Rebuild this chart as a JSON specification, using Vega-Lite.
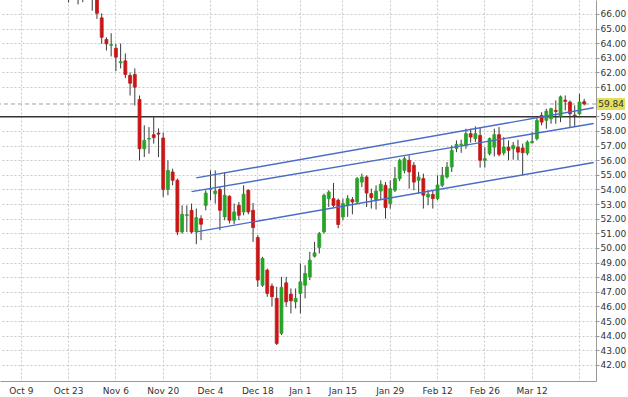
{
  "$schema": "https://vega.github.io/schema/vega-lite/v6.json",
  "width": 596,
  "height": 381,
  "autosize": {"type": "none"},
  "padding": {"left": 0, "top": 0, "right": 32, "bottom": 16},
  "background": "white",
  "config": {
    "view": {"stroke": null},
    "font": "DejaVu Sans",
    "axisY": {
      "orient": "right",
      "title": null,
      "labelOverlap": false,
      "format": ".2f",
      "grid": true,
      "gridColor": "#c8c8c8",
      "gridDash": [2, 2],
      "tickSize": 3,
      "tickColor": "#999999",
      "domainColor": "#999999",
      "labelFont": "DejaVu Sans",
      "labelFontSize": 9,
      "labelColor": "#333333",
      "labelPadding": 1
    }
  },
  "datasets": {
    "candles": [
      {"date": "2018-10-23", "o": 67.6, "h": 68.1, "l": 66.78, "c": 67.3},
      {"date": "2018-10-25", "o": 67.2, "h": 67.8, "l": 66.65, "c": 67.4},
      {"date": "2018-10-26", "o": 67.4, "h": 67.9, "l": 66.8, "c": 67.1},
      {"date": "2018-10-30", "o": 67.3, "h": 67.7, "l": 66.22, "c": 67.05},
      {"date": "2018-10-31", "o": 67.2, "h": 67.5, "l": 65.66, "c": 66.04},
      {"date": "2018-11-01", "o": 65.73, "h": 66.04, "l": 63.95, "c": 64.4},
      {"date": "2018-11-02", "o": 64.25, "h": 64.4, "l": 63.5, "c": 63.95},
      {"date": "2018-11-05", "o": 63.85, "h": 64.68, "l": 63.09, "c": 63.9},
      {"date": "2018-11-06", "o": 63.65, "h": 63.95, "l": 62.08, "c": 63.04},
      {"date": "2018-11-07", "o": 62.66, "h": 63.97, "l": 62.27, "c": 62.74},
      {"date": "2018-11-08", "o": 62.79, "h": 63.29, "l": 61.6, "c": 61.86},
      {"date": "2018-11-09", "o": 61.79, "h": 61.99, "l": 60.42, "c": 61.26},
      {"date": "2018-11-12", "o": 61.86, "h": 62.27, "l": 59.74, "c": 60.99},
      {"date": "2018-11-13", "o": 60.15, "h": 60.42, "l": 55.99, "c": 56.78},
      {"date": "2018-11-14", "o": 56.78, "h": 58.38, "l": 56.21, "c": 57.35},
      {"date": "2018-11-15", "o": 57.44, "h": 58.26, "l": 56.44, "c": 57.48},
      {"date": "2018-11-16", "o": 57.74, "h": 58.94, "l": 57.13, "c": 57.54},
      {"date": "2018-11-19", "o": 57.85, "h": 58.17, "l": 56.21, "c": 57.78},
      {"date": "2018-11-20", "o": 57.51, "h": 57.88, "l": 53.48, "c": 53.99},
      {"date": "2018-11-21", "o": 53.99, "h": 55.99, "l": 53.6, "c": 55.3},
      {"date": "2018-11-22", "o": 55.19, "h": 55.42, "l": 54.28, "c": 54.62},
      {"date": "2018-11-23", "o": 54.62, "h": 54.74, "l": 50.87, "c": 51.09},
      {"date": "2018-11-26", "o": 51.09, "h": 52.91, "l": 50.98, "c": 52.3},
      {"date": "2018-11-27", "o": 52.22, "h": 52.91, "l": 51.09, "c": 52.27},
      {"date": "2018-11-28", "o": 52.57, "h": 53.03, "l": 50.98, "c": 51.09},
      {"date": "2018-11-29", "o": 51.09, "h": 52.69, "l": 50.25, "c": 52.07},
      {"date": "2018-11-30", "o": 52.0, "h": 52.23, "l": 50.53, "c": 51.62},
      {"date": "2018-12-03", "o": 52.91, "h": 53.94, "l": 52.57, "c": 53.75},
      {"date": "2018-12-04", "o": 54.0, "h": 55.3, "l": 53.26, "c": 54.05},
      {"date": "2018-12-05", "o": 53.71, "h": 55.3, "l": 53.03, "c": 53.89},
      {"date": "2018-12-06", "o": 53.99, "h": 54.16, "l": 51.21, "c": 52.57},
      {"date": "2018-12-07", "o": 52.12, "h": 55.19, "l": 51.89, "c": 53.6},
      {"date": "2018-12-10", "o": 53.53, "h": 53.6, "l": 51.67, "c": 51.89},
      {"date": "2018-12-11", "o": 51.89, "h": 53.03, "l": 51.62, "c": 52.46},
      {"date": "2018-12-12", "o": 52.91, "h": 53.14, "l": 51.89, "c": 52.23},
      {"date": "2018-12-13", "o": 52.46, "h": 54.28, "l": 52.23, "c": 53.67},
      {"date": "2018-12-14", "o": 53.94, "h": 54.0, "l": 52.3, "c": 52.46},
      {"date": "2018-12-17", "o": 52.57, "h": 53.07, "l": 50.41, "c": 51.39},
      {"date": "2018-12-18", "o": 50.71, "h": 50.87, "l": 47.34, "c": 47.8},
      {"date": "2018-12-19", "o": 47.45, "h": 49.39, "l": 47.34, "c": 49.28},
      {"date": "2018-12-20", "o": 48.48, "h": 48.59, "l": 46.66, "c": 46.89},
      {"date": "2018-12-21", "o": 47.39, "h": 47.57, "l": 46.0, "c": 46.66},
      {"date": "2018-12-24", "o": 46.55, "h": 47.34, "l": 43.36, "c": 43.47},
      {"date": "2018-12-26", "o": 44.16, "h": 48.02, "l": 44.04, "c": 47.3},
      {"date": "2018-12-27", "o": 47.61, "h": 48.02, "l": 45.97, "c": 46.31},
      {"date": "2018-12-28", "o": 46.84, "h": 47.23, "l": 45.52, "c": 46.38},
      {"date": "2018-12-31", "o": 46.31, "h": 47.23, "l": 45.86, "c": 46.55},
      {"date": "2019-01-02", "o": 46.89, "h": 48.94, "l": 45.52, "c": 47.68},
      {"date": "2019-01-03", "o": 47.45, "h": 48.82, "l": 46.55, "c": 48.25},
      {"date": "2019-01-04", "o": 48.02, "h": 49.73, "l": 47.8, "c": 49.16},
      {"date": "2019-01-07", "o": 49.43, "h": 50.41, "l": 49.34, "c": 49.66},
      {"date": "2019-01-08", "o": 50.03, "h": 51.09, "l": 49.62, "c": 50.98},
      {"date": "2019-01-09", "o": 51.09, "h": 53.71, "l": 50.98, "c": 53.6},
      {"date": "2019-01-10", "o": 53.37, "h": 53.94, "l": 52.8, "c": 53.82},
      {"date": "2019-01-11", "o": 53.37, "h": 54.44, "l": 52.8, "c": 52.91},
      {"date": "2019-01-14", "o": 53.26, "h": 53.37, "l": 51.34, "c": 51.6},
      {"date": "2019-01-15", "o": 52.12, "h": 53.37, "l": 51.89, "c": 53.03},
      {"date": "2019-01-16", "o": 52.91, "h": 53.6, "l": 52.12, "c": 53.37},
      {"date": "2019-01-17", "o": 53.3, "h": 53.48, "l": 52.3, "c": 53.14},
      {"date": "2019-01-18", "o": 53.14, "h": 54.85, "l": 52.98, "c": 54.74},
      {"date": "2019-01-21", "o": 54.5, "h": 55.08, "l": 54.16, "c": 54.85},
      {"date": "2019-01-22", "o": 54.85, "h": 54.96, "l": 52.8, "c": 53.75},
      {"date": "2019-01-23", "o": 53.71, "h": 54.05, "l": 52.69, "c": 53.44},
      {"date": "2019-01-24", "o": 53.26, "h": 54.28, "l": 52.62, "c": 53.89},
      {"date": "2019-01-25", "o": 53.89, "h": 54.62, "l": 53.26, "c": 54.35},
      {"date": "2019-01-28", "o": 54.28, "h": 54.5, "l": 52.0, "c": 52.76},
      {"date": "2019-01-29", "o": 53.03, "h": 54.62, "l": 52.69, "c": 54.05},
      {"date": "2019-01-30", "o": 53.94, "h": 55.53, "l": 53.82, "c": 54.74},
      {"date": "2019-01-31", "o": 54.74, "h": 56.1, "l": 54.57, "c": 55.99},
      {"date": "2019-02-01", "o": 55.3, "h": 56.25, "l": 55.1, "c": 56.1},
      {"date": "2019-02-04", "o": 55.99, "h": 56.33, "l": 54.05, "c": 55.19},
      {"date": "2019-02-05", "o": 55.65, "h": 55.87, "l": 53.94, "c": 54.5},
      {"date": "2019-02-06", "o": 54.62, "h": 55.19, "l": 53.71, "c": 54.85},
      {"date": "2019-02-07", "o": 54.74, "h": 55.08, "l": 52.69, "c": 53.6},
      {"date": "2019-02-08", "o": 53.48, "h": 53.94, "l": 52.91, "c": 53.67},
      {"date": "2019-02-11", "o": 53.65, "h": 53.94, "l": 52.69, "c": 53.37},
      {"date": "2019-02-12", "o": 53.37, "h": 54.96, "l": 53.26, "c": 54.3},
      {"date": "2019-02-13", "o": 54.28, "h": 55.53, "l": 54.16, "c": 54.96},
      {"date": "2019-02-14", "o": 54.85, "h": 55.87, "l": 54.74, "c": 55.53},
      {"date": "2019-02-15", "o": 55.53, "h": 57.01, "l": 55.19, "c": 56.67},
      {"date": "2019-02-18", "o": 56.8, "h": 57.35, "l": 56.55, "c": 57.08},
      {"date": "2019-02-19", "o": 57.05, "h": 57.4, "l": 56.5, "c": 57.1},
      {"date": "2019-02-20", "o": 57.01, "h": 58.15, "l": 56.78, "c": 57.81},
      {"date": "2019-02-21", "o": 57.81, "h": 58.15, "l": 57.2, "c": 57.58},
      {"date": "2019-02-22", "o": 57.47, "h": 58.31, "l": 57.24, "c": 57.81},
      {"date": "2019-02-25", "o": 57.69, "h": 58.26, "l": 55.49, "c": 55.99},
      {"date": "2019-02-26", "o": 55.99, "h": 56.89, "l": 55.49, "c": 56.1},
      {"date": "2019-02-27", "o": 56.44, "h": 57.55, "l": 56.33, "c": 57.47},
      {"date": "2019-02-28", "o": 56.89, "h": 58.15, "l": 56.26, "c": 57.74},
      {"date": "2019-03-01", "o": 57.74, "h": 58.26, "l": 56.26, "c": 56.4},
      {"date": "2019-03-04", "o": 56.5, "h": 57.58, "l": 56.33, "c": 56.9},
      {"date": "2019-03-05", "o": 56.89, "h": 57.35, "l": 55.99, "c": 56.67},
      {"date": "2019-03-06", "o": 56.78, "h": 57.24, "l": 56.03, "c": 57.01},
      {"date": "2019-03-07", "o": 56.89, "h": 57.4, "l": 55.99, "c": 56.55},
      {"date": "2019-03-08", "o": 56.83, "h": 57.13, "l": 54.96, "c": 56.51},
      {"date": "2019-03-11", "o": 56.48, "h": 57.35, "l": 56.33, "c": 57.24},
      {"date": "2019-03-12", "o": 57.19, "h": 57.92, "l": 57.13, "c": 57.28},
      {"date": "2019-03-13", "o": 57.47, "h": 58.94, "l": 57.35, "c": 58.72},
      {"date": "2019-03-14", "o": 59.06, "h": 59.28, "l": 58.38, "c": 58.6},
      {"date": "2019-03-15", "o": 58.72, "h": 59.52, "l": 58.15, "c": 59.35},
      {"date": "2019-03-18", "o": 58.83, "h": 59.58, "l": 58.49, "c": 59.52},
      {"date": "2019-03-19", "o": 59.4, "h": 60.08, "l": 58.49, "c": 59.33},
      {"date": "2019-03-20", "o": 59.0, "h": 60.42, "l": 58.6, "c": 60.33},
      {"date": "2019-03-21", "o": 60.1, "h": 60.42, "l": 59.4, "c": 60.02},
      {"date": "2019-03-22", "o": 59.97, "h": 60.08, "l": 58.26, "c": 59.17},
      {"date": "2019-03-25", "o": 59.08, "h": 59.74, "l": 58.26, "c": 59.03},
      {"date": "2019-03-26", "o": 59.17, "h": 60.54, "l": 59.06, "c": 59.97},
      {"date": "2019-03-27", "o": 60.0, "h": 60.2, "l": 59.74, "c": 59.84}
    ],
    "channel": [
      {"line": "top", "date": "2018-11-29", "v": 54.79},
      {"line": "top", "date": "2019-03-29", "v": 59.58},
      {"line": "middle", "date": "2018-11-28", "v": 53.85},
      {"line": "middle", "date": "2019-03-29", "v": 58.51},
      {"line": "lower", "date": "2018-11-29", "v": 51.1},
      {"line": "lower", "date": "2019-03-29", "v": 55.84}
    ],
    "last": [{"date": "2019-03-29", "price": 59.84}],
    "levels": [{"level": 58.97}]
  },
  "layer": [
    {
      "data": {"name": "levels"},
      "mark": {"type": "rule", "color": "#333333", "strokeWidth": 1.5},
      "encoding": {
        "y": {
          "field": "level",
          "type": "quantitative",
          "scale": {"domain": [40.9, 66.95], "nice": false, "zero": false},
          "axis": {"values": [42,43,44,45,46,47,48,49,50,51,52,53,54,55,56,57,58,59,61,62,63,64,65,66,67], "labelOverlap": false}
        }
      }
    },
    {
      "data": {"name": "last"},
      "mark": {"type": "rule", "color": "#a0a0a0", "strokeWidth": 1, "strokeDash": [4, 3]},
      "encoding": {
        "y": {"field": "price", "type": "quantitative", "axis": {"values": [42,43,44,45,46,47,48,49,50,51,52,53,54,55,56,57,58,59,61,62,63,64,65,66,67], "labelOverlap": false}}
      }
    },
    {
      "encoding": {
        "x": {
          "field": "date",
          "type": "ordinal",
          "scale": {
            "type": "band",
            "paddingInner": 0,
            "paddingOuter": 0,
            "domain": ["2018-10-03","2018-10-04","2018-10-05","2018-10-08","2018-10-09","2018-10-10","2018-10-11","2018-10-12","2018-10-15","2018-10-16","2018-10-17","2018-10-18","2018-10-19","2018-10-22","2018-10-23","2018-10-24","2018-10-25","2018-10-26","2018-10-29","2018-10-30","2018-10-31",
              "2018-11-01","2018-11-02","2018-11-05","2018-11-06","2018-11-07","2018-11-08","2018-11-09","2018-11-12","2018-11-13","2018-11-14","2018-11-15","2018-11-16","2018-11-19","2018-11-20","2018-11-21","2018-11-22","2018-11-23","2018-11-26","2018-11-27","2018-11-28","2018-11-29","2018-11-30",
              "2018-12-03","2018-12-04","2018-12-05","2018-12-06","2018-12-07","2018-12-10","2018-12-11","2018-12-12","2018-12-13","2018-12-14","2018-12-17","2018-12-18","2018-12-19","2018-12-20","2018-12-21","2018-12-24","2018-12-26","2018-12-27","2018-12-28","2018-12-31",
              "2019-01-02","2019-01-03","2019-01-04","2019-01-07","2019-01-08","2019-01-09","2019-01-10","2019-01-11","2019-01-14","2019-01-15","2019-01-16","2019-01-17","2019-01-18","2019-01-21","2019-01-22","2019-01-23","2019-01-24","2019-01-25","2019-01-28","2019-01-29","2019-01-30","2019-01-31",
              "2019-02-01","2019-02-04","2019-02-05","2019-02-06","2019-02-07","2019-02-08","2019-02-11","2019-02-12","2019-02-13","2019-02-14","2019-02-15","2019-02-18","2019-02-19","2019-02-20","2019-02-21","2019-02-22","2019-02-25","2019-02-26","2019-02-27","2019-02-28",
              "2019-03-01","2019-03-04","2019-03-05","2019-03-06","2019-03-07","2019-03-08","2019-03-11","2019-03-12","2019-03-13","2019-03-14","2019-03-15","2019-03-18","2019-03-19","2019-03-20","2019-03-21","2019-03-22","2019-03-25","2019-03-26","2019-03-27","2019-03-28","2019-03-29"]
          },
          "axis": {
            "title": null,
            "values": ["2018-10-09","2018-10-23","2018-11-06","2018-11-20","2018-12-04","2018-12-18","2019-01-02","2019-01-15","2019-01-29","2019-02-12","2019-02-26","2019-03-12","2019-03-26"],
            "labelExpr": "datum.value == '2019-01-02' ? 'Jan 1' : (datum.value == '2019-03-26' ? '' : utcFormat(toDate(datum.value), '%b %-d'))",
            "bandPosition": 0.5,
            "grid": true,
            "gridColor": "#c8c8c8",
            "gridDash": [2, 2],
            "gridWidth": 1,
            "ticks": false,
            "domainColor": "#999999",
            "labelAngle": 0,
            "labelFont": "DejaVu Sans",
            "labelFontSize": 9,
            "labelColor": "#333333",
            "labelPadding": 5,
            "labelOverlap": false
          }
        }
      },
      "layer": [
        {
          "data": {"name": "candles"},
          "mark": {"type": "rule", "color": "#3a3a3a", "strokeWidth": 1, "clip": true},
          "encoding": {
            "y": {"field": "l", "type": "quantitative", "axis": {"values": [42,43,44,45,46,47,48,49,50,51,52,53,54,55,56,57,58,59,61,62,63,64,65,66,67], "labelOverlap": false}},
            "y2": {"field": "h"}
          }
        },
        {
          "data": {"name": "candles"},
          "mark": {"type": "bar", "width": {"band": 0.62}, "strokeWidth": 0.8, "clip": true},
          "encoding": {
            "y": {"field": "o", "type": "quantitative", "axis": {"values": [42,43,44,45,46,47,48,49,50,51,52,53,54,55,56,57,58,59,61,62,63,64,65,66,67], "labelOverlap": false}},
            "y2": {"field": "c"},
            "color": {"condition": {"test": "datum.c >= datum.o", "value": "#27a327"}, "value": "#c81616"},
            "stroke": {"condition": {"test": "datum.c >= datum.o", "value": "#27a327"}, "value": "#c81616"}
          }
        },
        {
          "data": {"name": "channel"},
          "mark": {"type": "line", "color": "#4a6cc8", "strokeWidth": 1.4, "clip": true},
          "encoding": {
            "y": {"field": "v", "type": "quantitative", "axis": {"values": [42,43,44,45,46,47,48,49,50,51,52,53,54,55,56,57,58,59,61,62,63,64,65,66,67], "labelOverlap": false}},
            "detail": {"field": "line"}
          }
        },
        {
          "data": {"name": "last"},
          "mark": {"type": "point", "shape": "M0.34,-0.6H3.14V0.6H0.34Z", "size": 400, "filled": true, "color": "#e4df5a", "opacity": 1, "strokeWidth": 0},
          "encoding": {
            "y": {"field": "price", "type": "quantitative", "axis": {"values": [42,43,44,45,46,47,48,49,50,51,52,53,54,55,56,57,58,59,61,62,63,64,65,66,67], "labelOverlap": false}}
          }
        },
        {
          "data": {"name": "last"},
          "mark": {"type": "text", "dx": 17.5, "align": "center", "baseline": "middle", "font": "DejaVu Sans", "fontSize": 9, "color": "#333333"},
          "encoding": {
            "y": {"field": "price", "type": "quantitative", "axis": {"values": [42,43,44,45,46,47,48,49,50,51,52,53,54,55,56,57,58,59,61,62,63,64,65,66,67], "labelOverlap": false}},
            "text": {"field": "price", "type": "quantitative", "format": ".2f"}
          }
        }
      ]
    }
  ]
}
